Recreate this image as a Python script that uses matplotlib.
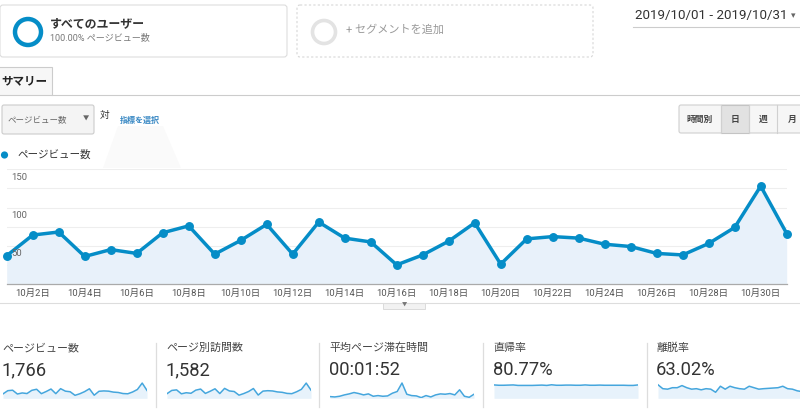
import matplotlib
matplotlib.use("Agg")
import matplotlib.pyplot as plt
from matplotlib.patches import FancyBboxPatch, Rectangle, Circle, Polygon

plt.rcParams['font.family'] = ['Roboto', 'Noto Sans CJK JP', 'DejaVu Sans']

# ---------------- data ----------------
days = list(range(1, 32))
pageviews = [37, 64, 68, 36, 45, 40, 67, 76, 39, 57, 78, 39, 81, 60, 55, 25,
             38, 56, 80, 26, 59, 62, 60, 52, 49, 40, 38, 53, 74, 128, 66]
page_visits = [34, 58, 62, 33, 41, 37, 60, 68, 36, 52, 70, 35, 73, 54, 50, 23,
               35, 50, 72, 24, 53, 56, 54, 47, 44, 36, 34, 48, 66, 112, 60]
avg_time = [50, 40, 60, 100, 130, 170, 140, 100, 130, 60, 80, 60, 70, 150, 200, 450,
            120, 80, 70, 20, 80, 40, 100, 130, 120, 140, 100, 250, 60, 30, 120]
bounce_rate = [82, 80, 80, 81, 82, 79, 79, 79, 79, 80, 81, 79, 83, 80, 80, 81,
               81, 80, 80, 82, 80, 80, 81, 80, 80, 80, 80, 80, 79, 79, 82]
exit_rate = [83, 59, 56, 65, 65, 78, 65, 56, 59, 52, 59, 56, 37, 74, 56, 74,
             65, 59, 56, 74, 65, 56, 59, 61, 63, 65, 74, 59, 56, 46, 41]
xtick_days = list(range(2, 31, 2))
xtick_labels = [f"10月{d}日" for d in xtick_days]
ytick_values = [50, 100, 150]
metric_titles = ["ページビュー数", "ページ別訪問数", "平均ページ滞在時間", "直帰率", "離脱率"]
metric_values = ["1,766", "1,582", "00:01:52", "80.77%", "63.02%"]
spark_series = [pageviews, page_visits, avg_time, bounce_rate, exit_rate]
spark_tops = [137, 120, 480, 100, 100]

W, H = 800, 419
fig = plt.figure(figsize=(W / 100, H / 100), dpi=100)


def px_axes(x0, y0, x1, y1, **kw):
    return fig.add_axes([x0 / W, 1 - y1 / H, (x1 - x0) / W, (y1 - y0) / H], **kw)


# overlay axes in pixel coordinates
ov = px_axes(0, 0, W, H)
ov.set_xlim(0, W)
ov.set_ylim(H, 0)
ov.axis('off')
ov.patch.set_visible(False)

BLUE = '#058dc7'

# segment box 1
ov.add_patch(FancyBboxPatch((0, 5), 287, 52, boxstyle="round,pad=0,rounding_size=3",
                            fc='white', ec='#dddddd', lw=0.8))
ov.add_patch(Circle((28, 32), 13, fc='none', ec=BLUE, lw=3.2))
ov.text(50, 24, "すべてのユーザー", fontsize=8.6, color='#333333', va='center', ha='left', weight='bold')
ov.text(50, 37.5, "100.00% ページビュー数", fontsize=6.5, color='#777777', va='center', ha='left')

# segment box 2
ov.add_patch(FancyBboxPatch((297, 5), 296, 52, boxstyle="round,pad=0,rounding_size=3",
                            fc='white', ec='#d6d6d6', lw=0.8, ls=(0, (2, 2))))
ov.add_patch(Circle((324, 32), 11.5, fc='none', ec='#e3e3e3', lw=2.6))
ov.text(346, 30, "+ セグメントを追加", fontsize=8, color='#9a9a9a', va='center', ha='left')

# date range
ov.text(635, 16, "2019/10/01 - 2019/10/31", fontsize=9.6, color='#333333', va='center', ha='left')
ov.plot([633, 800], [27.5, 27.5], color='#cccccc', lw=0.8)
ov.text(791, 16, "▾", fontsize=6.5, color='#666666', va='center', ha='left')

# tab
ov.add_patch(Rectangle((-2, 67), 54, 28.5, fc='#f7f7f7', ec='#cccccc', lw=0.8))
ov.plot([52, 800], [95.5, 95.5], color='#cccccc', lw=0.8)
ov.text(1, 81, "サマリー", fontsize=8.3, color='#222222', va='center', ha='left', weight='bold')

# metric dropdown
ov.add_patch(FancyBboxPatch((2, 105), 92, 29, boxstyle="round,pad=0,rounding_size=2",
                            fc='#f4f4f4', ec='#cccccc', lw=0.8))
ov.text(7, 119.5, "ページビュー数", fontsize=6.1, color='#666666', va='center', ha='left')
ov.text(86, 119.5, "▼", fontsize=4.5, color='#666666', va='center', ha='center')
ov.text(100, 115, "対", fontsize=7, color='#333333', va='center', ha='left')
ov.text(120, 119.5, "指標を選択", fontsize=5.8, color='#3a89c4', va='center', ha='left', weight='bold')

# faint tooltip-like shape
ov.add_patch(Polygon([(118, 126), (163, 126), (181, 168), (103, 168)], closed=True,
                     fc='#fafafa', ec='none'))

# time buttons
ov.add_patch(FancyBboxPatch((679, 105), 125, 28, boxstyle="round,pad=0,rounding_size=2",
                            fc='#f6f6f6', ec='#d0d0d0', lw=0.8))
ov.add_patch(Rectangle((721, 105), 28, 28, fc='#e2e2e2', ec='#c4c4c4', lw=0.8))
for xb in [721, 749, 777]:
    ov.plot([xb, xb], [105, 133], color='#d0d0d0', lw=0.8)
for xt, lab in [(700, "時間別"), (735, "日"), (763, "週"), (792, "月")]:
    ov.text(xt, 119, lab, fontsize=6.3, color='#444444', va='center', ha='center', weight='bold')

# legend
ov.add_patch(Circle((4.5, 155), 3.6, fc=BLUE, ec='none'))
ov.text(17, 155, "ページビュー数", fontsize=7.6, color='#333333', va='center', ha='left')

# line under x labels with handle
ov.plot([0, 800], [302.8, 302.8], color='#dddddd', lw=0.8)
ov.add_patch(Rectangle((383, 302.8), 42, 6.5, fc='#f2f2f2', ec='#d6d6d6', lw=0.6))
ov.text(404, 305.5, "▼", fontsize=3.8, color='#777777', va='center', ha='center')

# ---------------- main chart ----------------
ax = px_axes(6.7, 169.3, 786.7, 284)
ax.patch.set_visible(False)
ax.fill_between(days, pageviews, 0, color='#e8f1fa', lw=0)
ax.plot(days, pageviews, color=BLUE, lw=2.5, marker='o', markersize=5.4,
        clip_on=False, solid_joinstyle='miter')
ax.set_xlim(1, 31)
ax.set_ylim(0, 150)
ax.set_yticks(list(range(0, 151, 25)))
ax.yaxis.grid(True, color='#eeeeee', lw=0.8)
ax.set_axisbelow(True)
ax.tick_params(axis='y', length=0, labelleft=False)
ax.set_xticks(xtick_days)
ax.set_xticklabels(xtick_labels, fontsize=6.8, color='#555555')
ax.tick_params(axis='x', length=0, pad=3.5)
for s in ['top', 'left', 'right']:
    ax.spines[s].set_visible(False)
ax.spines['bottom'].set_color('#aaaaaa')
ax.spines['bottom'].set_linewidth(0.9)
for v in ytick_values:
    ax.annotate(str(v), xy=(0, v), xycoords=('axes fraction', 'data'),
                xytext=(3, -2.5), textcoords='offset points', va='top', ha='left',
                fontsize=6.8, color='#666666')

# ---------------- scorecards ----------------
card_x = [2, 166, 329, 493, 656.5]
spark_x = [(3, 147), (167, 311), (330, 474), (494, 638), (658, 802)]
dividers = [155.7, 319, 482.7, 646.7]
for xd in dividers:
    ov.plot([xd, xd], [343, 407], color='#dddddd', lw=0.9)

for i in range(5):
    ov.text(card_x[i], 348, metric_titles[i], fontsize=7.9, color='#444444', va='center', ha='left')
    ov.text(card_x[i] - 0.5, 370, metric_values[i], fontsize=13.2, color='#333333',
            va='center', ha='left', weight='normal')
    sx0, sx1 = spark_x[i]
    sa = px_axes(sx0, 382, sx1, 398.3)
    sa.patch.set_visible(False)
    sa.fill_between(range(31), spark_series[i], 0, color='#e7f2fb', lw=0)
    sa.plot(range(31), spark_series[i], color='#45a6dd', lw=1.1)
    sa.set_xlim(0, 30)
    sa.set_ylim(0, spark_tops[i])
    sa.axis('off')

fig.savefig("out.png", dpi=100)
